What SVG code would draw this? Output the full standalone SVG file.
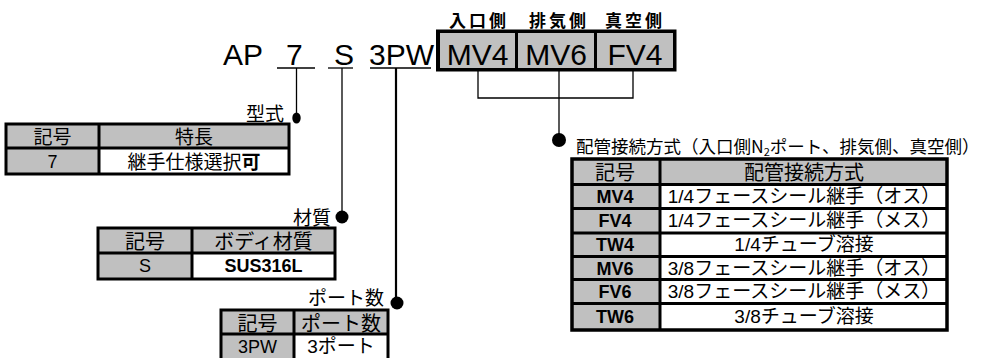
<svg xmlns="http://www.w3.org/2000/svg" width="999" height="358" viewBox="0 0 999 358">
<style>
.jp{font-family:"Noto Sans CJK JP","Liberation Sans",sans-serif;font-size:20px;fill:#000}
.lb{font-family:"Noto Sans CJK JP","Liberation Sans",sans-serif;font-size:19px;fill:#000}
.mix{font-family:"Liberation Sans","Noto Sans CJK JP",sans-serif;font-size:19px;fill:#000}
.code{font-family:"Liberation Sans",Arial,sans-serif;font-size:18px;font-weight:bold;fill:#000}
.big{font-family:"Liberation Sans",Arial,sans-serif;font-size:30px;fill:#000}
.top{font-family:"Noto Sans CJK JP",sans-serif;font-size:17px;font-weight:bold;letter-spacing:3px;fill:#000}
.c{text-anchor:middle}
.r{text-anchor:end}
.g{fill:#c0c0c0}
.w{fill:#fff}
.grid{stroke:#000;stroke-width:3;fill:none}
.ln{stroke:#000;stroke-width:1.3;fill:none}
</style>

<g id="code">
<text class="big" x="223" y="65">AP</text>
<text class="big" x="286" y="65">7</text>
<text class="big" x="334" y="65">S</text>
<text class="big" x="369" y="65">3PW</text>
<line class="ln" x1="277" y1="68" x2="315" y2="68"/>
<line class="ln" x1="328" y1="68" x2="353" y2="68"/>
<line class="ln" x1="370" y1="68" x2="431" y2="68"/>
</g>

<g id="fittings">
<rect x="436" y="29.5" width="240.5" height="42" fill="#000"/>
<rect class="g" x="440" y="33" width="75" height="35"/>
<rect class="g" x="518" y="33" width="76" height="35"/>
<rect class="g" x="597" y="33" width="76" height="35"/>
<text class="big c" x="477.5" y="65">MV4</text>
<text class="big c" x="556" y="65">MV6</text>
<text class="big c" x="635" y="65">FV4</text>
<text class="top c" x="479" y="27">入口側</text>
<text class="top c" x="559" y="27">排気側</text>
<text class="top c" x="635" y="27">真空側</text>
</g>

<g id="connectors">
<line class="ln" x1="296.5" y1="68" x2="296.5" y2="116"/>
<line class="ln" x1="342" y1="68" x2="342" y2="214"/>
<line x1="396" y1="68" x2="396" y2="300" stroke="#000" stroke-width="2.2"/>
<polyline class="ln" points="478,71 478,98 633,98 633,71"/>
<line class="ln" x1="559" y1="71" x2="559" y2="136"/>
<ellipse cx="296.5" cy="118" rx="4.2" ry="5.5" fill="#000"/>
<circle cx="342" cy="217" r="6.5" fill="#000"/>
<circle cx="397" cy="303" r="6.5" fill="#000"/>
<circle cx="559" cy="140" r="7" fill="#000"/>
</g>

<g id="type-table">
<text class="lb r" x="284" y="121">型式</text>
<rect class="g" x="6" y="124" width="283" height="50"/>
<rect class="w" x="99" y="148" width="190" height="26"/>
<rect class="grid" x="6" y="124" width="283" height="50"/>
<line class="grid" x1="6" y1="148" x2="289" y2="148"/>
<line class="grid" x1="99" y1="124" x2="99" y2="174"/>
<text class="jp c" x="52.5" y="143.5" style="font-size:19px">記号</text>
<text class="jp c" x="194" y="143.5" style="font-size:19px">特長</text>
<text class="code c" x="52.5" y="168" style="font-weight:normal">7</text>
<text class="jp c" x="194" y="168.5" style="font-size:19px">継手仕様選択<tspan font-weight="bold">可</tspan></text>
</g>

<g id="material-table">
<text class="lb r" x="331" y="225">材質</text>
<rect class="g" x="98" y="228" width="237" height="51"/>
<rect class="w" x="192" y="253" width="143" height="26"/>
<rect class="grid" x="98" y="228" width="237" height="51"/>
<line class="grid" x1="98" y1="253" x2="335" y2="253"/>
<line class="grid" x1="192" y1="228" x2="192" y2="279"/>
<text class="jp c" x="145" y="249">記号</text>
<text class="jp c" x="263.5" y="249">ボディ材質</text>
<text class="code c" x="145" y="272" style="font-weight:normal">S</text>
<text class="code c" x="263.5" y="272">SUS316L</text>
</g>

<g id="port-table">
<text class="lb r" x="384" y="305">ポート数</text>
<rect class="g" x="221" y="310" width="167" height="52"/>
<rect class="w" x="294" y="334" width="94" height="28"/>
<rect class="grid" x="221" y="310" width="167" height="52"/>
<line class="grid" x1="221" y1="334" x2="388" y2="334"/>
<line class="grid" x1="294" y1="310" x2="294" y2="362"/>
<text class="jp c" x="257.5" y="331">記号</text>
<text class="jp c" x="341" y="331">ポート数</text>
<text class="code c" x="257.5" y="353" style="font-weight:normal">3PW</text>
<text class="mix c" x="341" y="353">3ポート</text>
</g>

<g id="piping-table">
<text class="lb" x="576" y="153" style="font-size:17.5px">配管接続方式（入口側N<tspan style="font-size:11px" dy="3">2</tspan><tspan dy="-3">ポート、排気側、真空側）</tspan></text>
<rect class="g" x="572" y="159" width="375" height="171"/>
<rect class="w" x="660" y="184.5" width="287" height="145.5"/>
<line class="grid" x1="572" y1="184.5" x2="947" y2="184.5"/>
<line class="grid" x1="572" y1="208.5" x2="947" y2="208.5"/>
<line class="grid" x1="572" y1="233" x2="947" y2="233"/>
<line class="grid" x1="572" y1="256.5" x2="947" y2="256.5"/>
<line class="grid" x1="572" y1="279.5" x2="947" y2="279.5"/>
<line class="grid" x1="572" y1="303.5" x2="947" y2="303.5"/>
<line class="grid" x1="660" y1="159" x2="660" y2="330"/>
<rect x="572" y="159" width="375" height="171" fill="none" stroke="#000" stroke-width="3.5"/>
<text class="jp c" x="615" y="180">記号</text>
<text class="jp c" x="804" y="180">配管接続方式</text>
<text class="code c" x="615" y="203">MV4</text>
<text class="mix c" x="804" y="203">1/4フェースシール継手（オス）</text>
<text class="code c" x="615" y="227">FV4</text>
<text class="mix c" x="804" y="227">1/4フェースシール継手（メス）</text>
<text class="code c" x="615" y="251">TW4</text>
<text class="mix c" x="804" y="251">1/4チューブ溶接</text>
<text class="code c" x="615" y="274.5">MV6</text>
<text class="mix c" x="804" y="274.5">3/8フェースシール継手（オス）</text>
<text class="code c" x="615" y="298">FV6</text>
<text class="mix c" x="804" y="298">3/8フェースシール継手（メス）</text>
<text class="code c" x="615" y="323">TW6</text>
<text class="mix c" x="804" y="323">3/8チューブ溶接</text>
</g>
</svg>
